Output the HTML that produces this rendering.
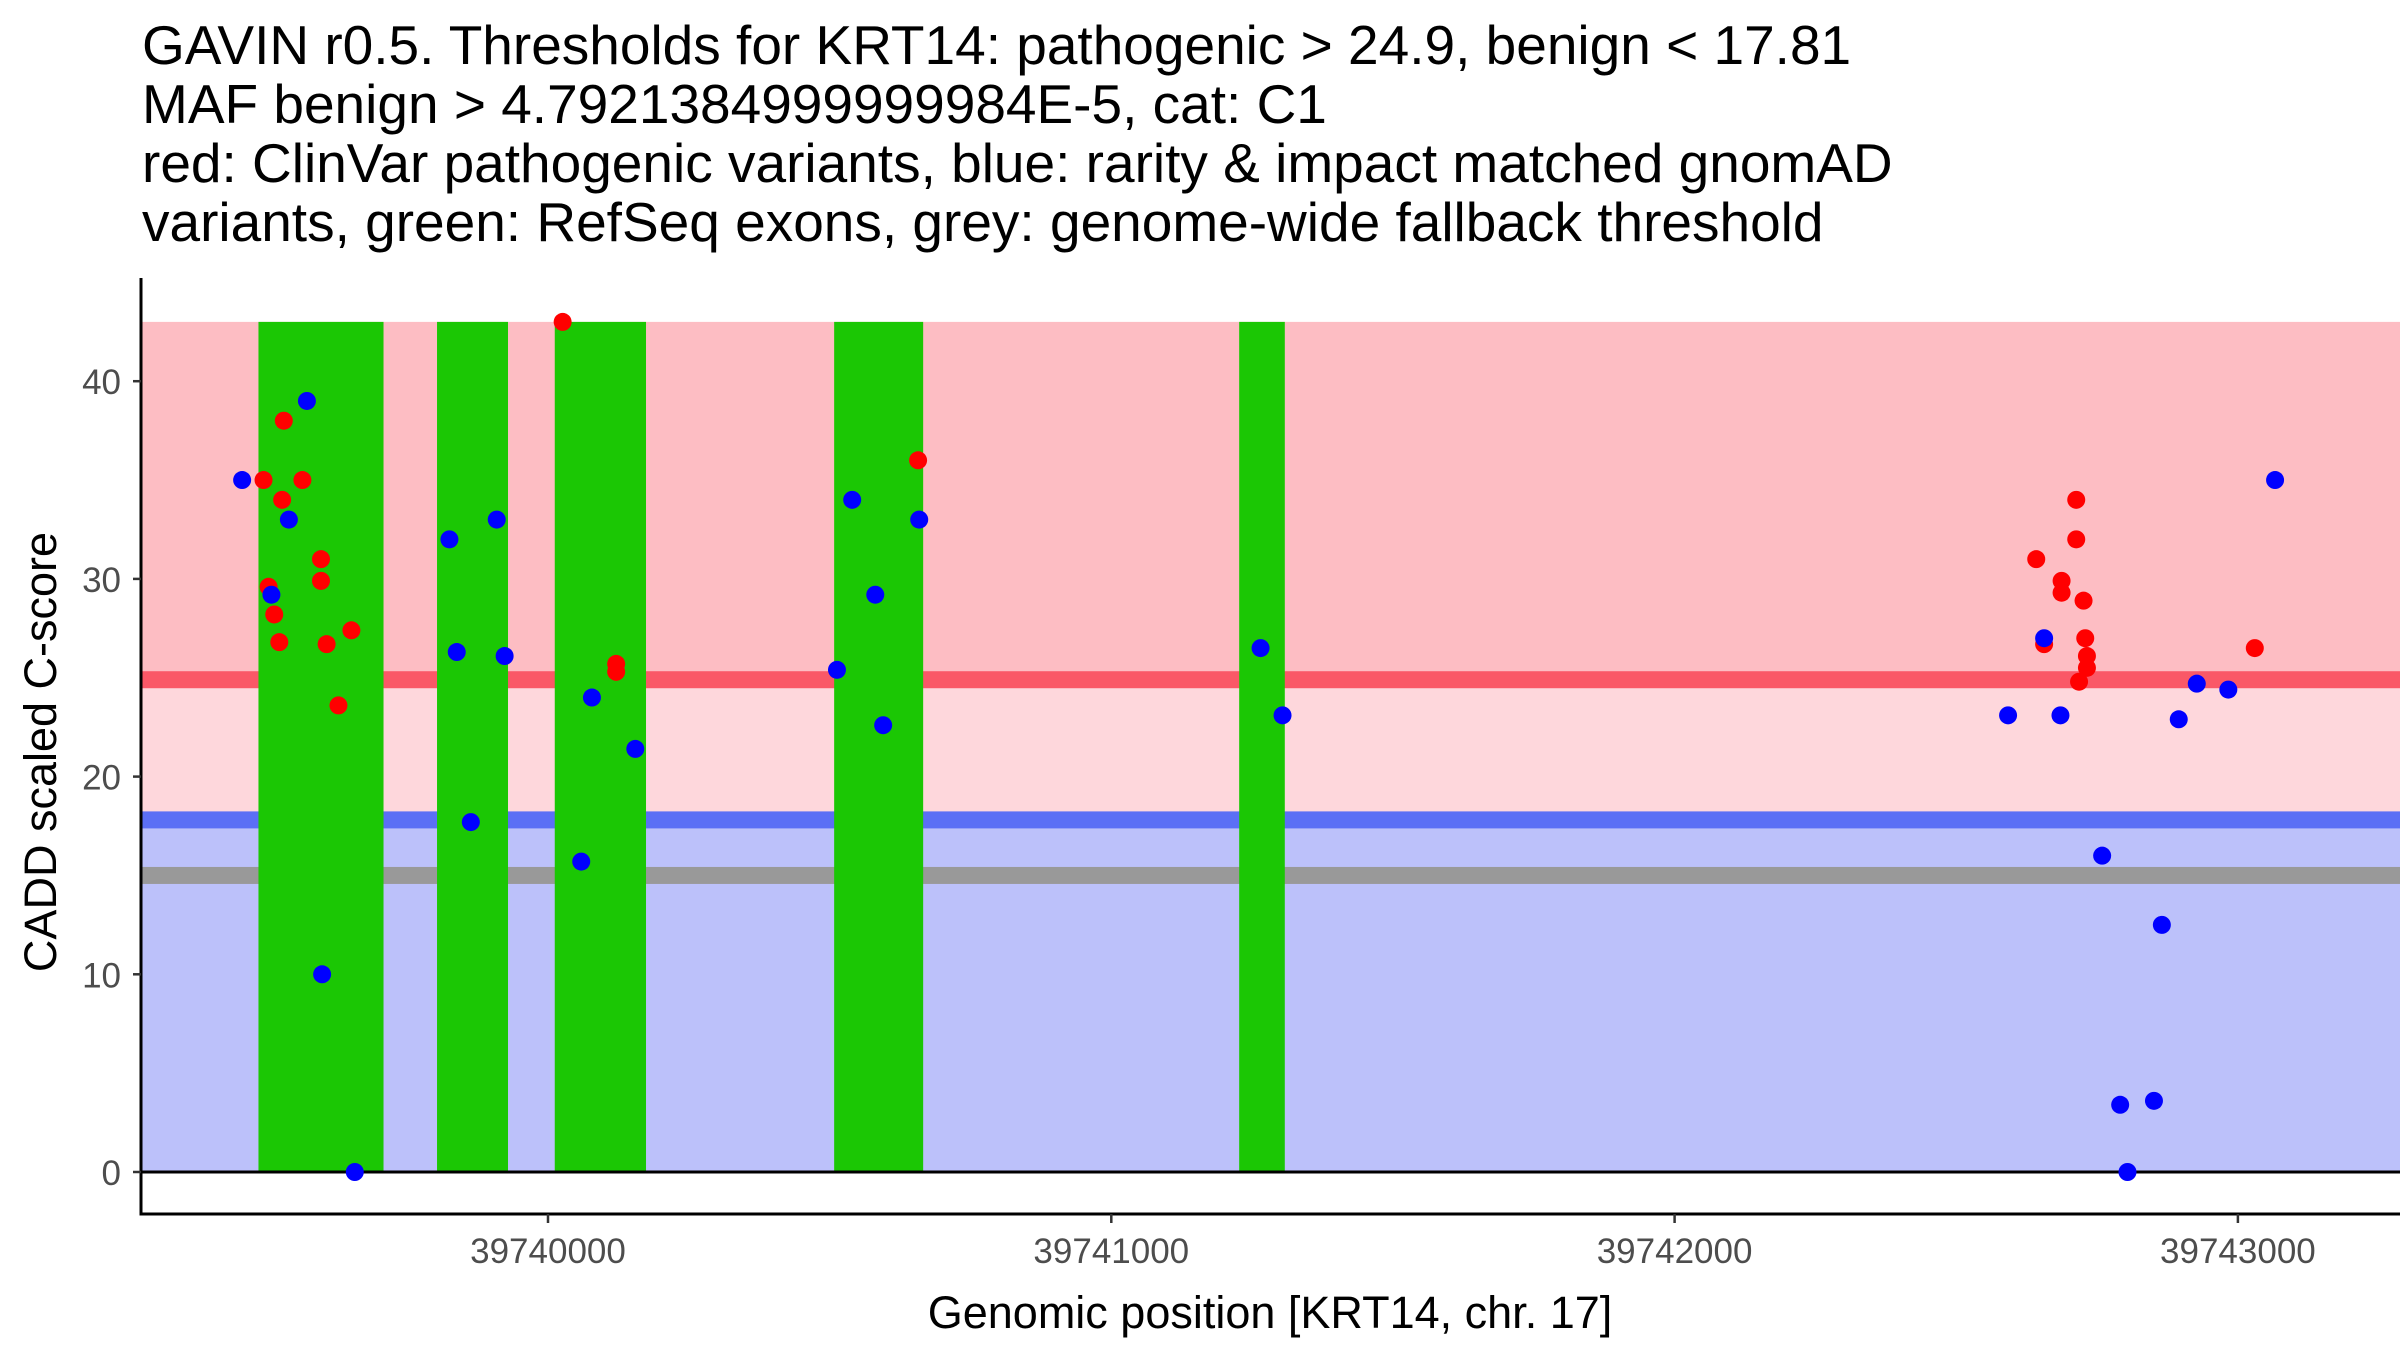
<!DOCTYPE html>
<html><head><meta charset="utf-8"><style>
html,body{margin:0;padding:0;background:#fff;}
svg{display:block;font-family:"Liberation Sans",sans-serif;}
</style></head><body>
<svg id="chart" width="2400" height="1350" viewBox="0 0 2400 1350" xmlns="http://www.w3.org/2000/svg">
<g font-size="55" fill="#000">
<text x="142" y="64">GAVIN r0.5. Thresholds for KRT14: pathogenic &gt; 24.9, benign &lt; 17.81</text>
<text x="142" y="123">MAF benign &gt; 4.7921384999999984E-5, cat: C1</text>
<text x="142" y="182">red: ClinVar pathogenic variants, blue: rarity &amp; impact matched gnomAD</text>
<text x="142" y="241">variants, green: RefSeq exons, grey: genome-wide fallback threshold</text>
</g>
<g id="bands"></g>
<g id="exons"></g>
<g id="points"></g>
<g id="axes"></g>
<text x="1270" y="1328" font-size="45" text-anchor="middle">Genomic position [KRT14, chr. 17]</text>
<text transform="translate(56,752) rotate(-90)" font-size="45" text-anchor="middle">CADD scaled C-score</text>
</svg>
<script>
const exonStarts=[39739486,39739803,39740012,39740508,39741227];
const exonEnds=[39739708,39739929,39740174,39740666,39741308];
const pathoPos=[39739495,39739504,39739514,39739523,39739528,39739531,39739564,39739597,39739597,39739607,39739628,39739651,39740026,39740121,39740121,39740657,39742642,39742656,39742687,39742687,39742713,39742713,39742718,39742726,39742729,39742732,39742732,39743030];
const pathoScore=[35,29.6,28.2,26.8,34,38,35,31,29.9,26.7,23.6,27.4,43,25.7,25.3,36,31,26.7,29.9,29.3,34,32,24.8,28.9,27,26.1,25.5,26.5];
const benignPos=[39739457,39739509,39739540,39739572,39739599,39739657,39739825,39739838,39739863,39739909,39739923,39740059,39740078,39740155,39740513,39740540,39740581,39740595,39740659,39741265,39741304,39742592,39742656,39742685,39742759,39742791,39742804,39742851,39742865,39742895,39742927,39742983,39743066];
const benignScore=[35,29.2,33,39,10,0,32,26.3,17.7,33,26.1,15.7,24,21.4,25.4,34,29.2,22.6,33,26.5,23.1,23.1,27,23.1,16,3.4,0,3.6,12.5,22.9,24.7,24.4,35];
const xTicks=[39740000,39741000,39742000,39743000];
const yTicks=[0,10,20,30,40];
const pathThr=24.9, benThr=17.81, fallback=15, yMax=43;

const NS="http://www.w3.org/2000/svg";
const X0=141,X1=2400,YA=1214;
function xs(v){return 548+(v-39740000)*0.5633;}
function ys(v){return 1172-v*19.77;}
function mk(tag,attrs,parent){const e=document.createElementNS(NS,tag);for(const k in attrs)e.setAttribute(k,attrs[k]);parent.appendChild(e);return e;}
const bands=document.getElementById('bands'),ex=document.getElementById('exons'),pts=document.getElementById('points'),ax=document.getElementById('axes');
let r;
r=mk('rect',{x:X0,y:ys(yMax),width:X1-X0,height:ys(pathThr)-ys(yMax),fill:'#FDBDC3'},bands);


r=mk('rect',{x:X0,y:ys(pathThr),width:X1-X0,height:ys(benThr)-ys(pathThr),fill:'#FED7DC'},bands);


r=mk('rect',{x:X0,y:ys(benThr),width:X1-X0,height:ys(0)-ys(benThr),fill:'#BCC1FA'},bands);


r=mk('rect',{x:X0,y:ys(pathThr)-8.5,width:X1-X0,height:17,fill:'#FA5867'},bands);


r=mk('rect',{x:X0,y:ys(benThr)-8.5,width:X1-X0,height:17,fill:'#5B6FF5'},bands);


r=mk('rect',{x:X0,y:ys(fallback)-8.5,width:X1-X0,height:17,fill:'#999999'},bands);


exonStarts.forEach((s,i)=>{
  const e=mk('rect',{x:xs(s),y:ys(yMax),width:xs(exonEnds[i])-xs(s),height:ys(0)-ys(yMax),fill:'#1BC704'},ex);
  
  
});
r=mk('line',{x1:X0,x2:X1,y1:ys(0),y2:ys(0),stroke:'#000','stroke-width':3},ex);


pathoPos.forEach((p,i)=>{
  const c=mk('circle',{cx:xs(p),cy:ys(pathoScore[i]),r:9,fill:'#FF0000'},pts);
  
  
});
benignPos.forEach((p,i)=>{
  const c=mk('circle',{cx:xs(p),cy:ys(benignScore[i]),r:9,fill:'#0000FF'},pts);
  
  
});
r=mk('line',{x1:X0,x2:X0,y1:278,y2:YA+1.5,stroke:'#000','stroke-width':3},ax);


r=mk('line',{x1:X0-1.5,x2:X1,y1:YA,y2:YA,stroke:'#000','stroke-width':3},ax);


yTicks.forEach(t=>{
  const l=mk('line',{x1:X0-8,x2:X0,y1:ys(t),y2:ys(t),stroke:'#333','stroke-width':2.5},ax);
  
  
  const tx=mk('text',{x:X0-20,y:ys(t)+13,'font-size':35,fill:'#4D4D4D','text-anchor':'end'},ax);
  tx.textContent=t;
  
  
});
xTicks.forEach(t=>{
  const l=mk('line',{x1:xs(t),x2:xs(t),y1:YA,y2:YA+9,stroke:'#333','stroke-width':2.5},ax);
  
  
  const tx=mk('text',{x:xs(t),y:1263,'font-size':35,fill:'#4D4D4D','text-anchor':'middle'},ax);
  tx.textContent=t;
  
  
});
</script>
</body></html>
